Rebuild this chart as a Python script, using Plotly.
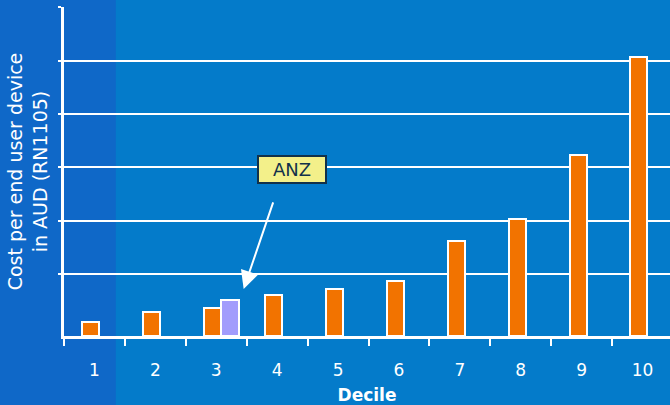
import plotly.graph_objects as go

deciles = ["1", "2", "3", "4", "5", "6", "7", "8", "9", "10"]
cost = [0.27, 0.44, 0.52, 0.76, 0.88, 1.03, 1.78, 2.19, 3.39, 5.21]
anz_decile = ["3"]
anz_cost = [0.67]
grid_vals = [1.15, 2.15, 3.15, 4.15, 5.15, 6.15]

ORANGE = "#F27300"
PURPLE = "#A29CFC"
BG = "#047BCA"
BG_DARK = "#0F68C8"
FONT = "DejaVu Sans"

fig = go.Figure()
fig.add_trace(go.Bar(x=deciles, y=cost, offset=-0.2, width=0.28,
                     marker=dict(color=ORANGE, line=dict(color="white", width=2)),
                     showlegend=False))
fig.add_trace(go.Bar(x=anz_decile, y=anz_cost, offset=0.08, width=0.29,
                     marker=dict(color=PURPLE, line=dict(color="white", width=2)),
                     showlegend=False))

# darker textured left panel
fig.add_shape(type="rect", xref="paper", yref="paper", x0=-0.2, x1=0.0855, y0=-0.3, y1=1.1,
              fillcolor=BG_DARK, line=dict(width=0), layer="below")

# ANZ label and arrow
fig.add_annotation(x=3.25, y=3.11, text="ANZ", showarrow=False,
                   font=dict(family=FONT, size=18, color="#12314A"),
                   bgcolor="#F3F08A", bordercolor="#12314A", borderwidth=2,
                   borderpad=2, width=62, height=21)
fig.add_annotation(x=2.45, y=0.88, text="", showarrow=True, ax=30, ay=-88,
                   arrowhead=2, arrowsize=1.8, arrowwidth=2, arrowcolor="white")

fig.update_layout(
    width=670, height=405,
    margin=dict(l=64, r=0, t=7, b=69),
    paper_bgcolor=BG, plot_bgcolor="rgba(0,0,0,0)",
    font=dict(family=FONT, color="white", size=17),
    bargap=0, barmode="overlay",
    xaxis=dict(type="category", range=[-0.5, 9.45], showgrid=False,
               showline=True, linecolor="white", linewidth=3,
               ticks="outside", tickson="boundaries", ticklen=7, tickwidth=2,
               tickcolor="white", ticklabelstandoff=17,
               tickfont=dict(size=17, color="white"),
               title=dict(text="<b>Decile</b>", font=dict(size=17, color="white"), standoff=10)),
    yaxis=dict(range=[0, 6.15], tickmode="array", tickvals=grid_vals,
               showticklabels=False, showgrid=True, gridcolor="white", gridwidth=2,
               showline=True, linecolor="white", linewidth=3,
               ticks="outside", ticklen=3, tickwidth=2, tickcolor="white",
               zeroline=False,
               title=dict(text="Cost per end user device<br>in AUD (RN1105)",
                          font=dict(size=19, color="white"), standoff=6)),
)

fig.write_html("out.html")
